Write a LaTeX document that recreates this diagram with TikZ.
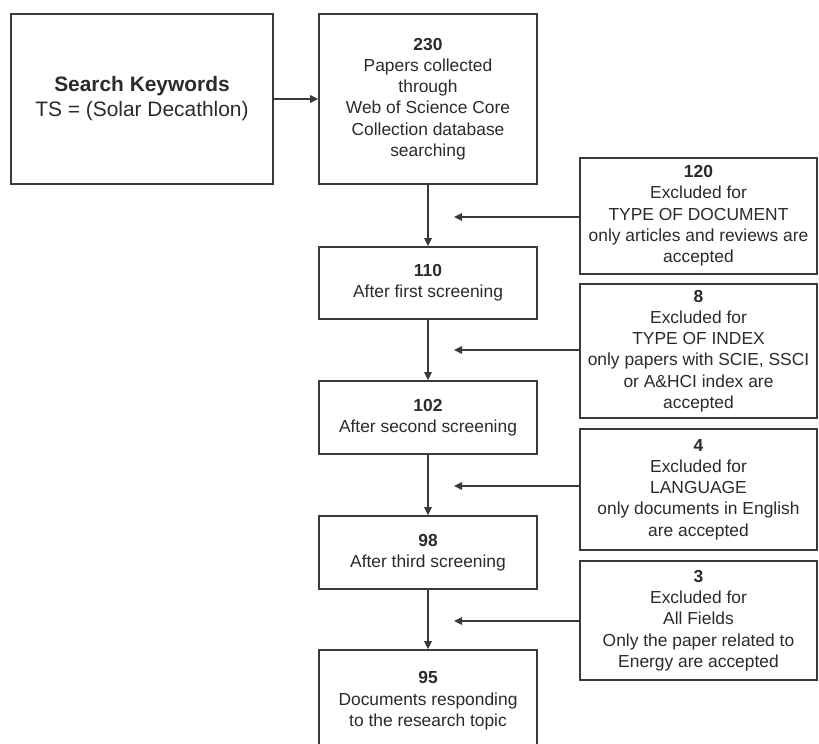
\documentclass[tikz,border=0pt]{standalone}
\usepackage{fontspec}
\setmainfont{Liberation Sans}
\usetikzlibrary{arrows.meta}
\definecolor{edge}{HTML}{3A3A3A}
\definecolor{ink}{HTML}{2B2B2B}
\begin{document}
\begin{tikzpicture}[x=1pt,y=-1pt,
  box/.style={draw=edge, line width=1.8pt, fill=white, inner sep=0pt, align=center, text=ink,
              font=\fontsize{17.4}{21.3}\selectfont},
  conn/.style={draw=edge, line width=1.4pt, -{Triangle[length=8pt,width=7.5pt]}}]
\clip (0,0) rectangle (819,744);
\fill[white] (0,0) rectangle (819,744);
% main column
\node[box, minimum width=262pt, minimum height=170pt, font=\fontsize{20.9}{25}\selectfont] (kw) at (142,99)
  {\textbf{Search Keywords}\\TS = (Solar Decathlon)};
\node[box, minimum width=218pt, minimum height=170pt] (b230) at (428,99)
  {\textbf{230}\\Papers collected\\through\\Web of Science Core\\Collection database\\searching};
\node[box, minimum width=218pt, minimum height=72pt] (b110) at (428,283)
  {\textbf{110}\\After first screening};
\node[box, minimum width=218pt, minimum height=73pt] (b102) at (428,417.5)
  {\textbf{102}\\After second screening};
\node[box, minimum width=218pt, minimum height=73pt] (b98) at (428,552.5)
  {\textbf{98}\\After third screening};
\node[box, minimum width=218pt, minimum height=102pt] (b95) at (428,701)
  {\textbf{95}\\Documents responding\\to the research topic};
% exclusion boxes
\node[box, minimum width=237pt, minimum height=116pt] (b120) at (698.5,216)
  {\textbf{120}\\Excluded for\\TYPE OF DOCUMENT\\only articles and reviews are\\accepted};
\node[box, minimum width=237pt, minimum height=134pt] (b8) at (698.5,351)
  {\textbf{8}\\Excluded for\\TYPE OF INDEX\\only papers with SCIE, SSCI\\or A\&HCI index are\\accepted};
\node[box, minimum width=237pt, minimum height=121pt] (b4) at (698.5,489.5)
  {\textbf{4}\\Excluded for\\LANGUAGE\\only documents in English\\are accepted};
\node[box, minimum width=237pt, minimum height=119pt] (b3) at (698.5,620.5)
  {\textbf{3}\\Excluded for\\All Fields\\Only the paper related to\\Energy are accepted};
% free ends of the exclusion arrows
\coordinate (t1) at (454,217);
\coordinate (t2) at (454,350);
\coordinate (t3) at (454,486);
\coordinate (t4) at (454,621);
% connectors
\draw[conn] (kw.east) -- (b230.west);
\draw[conn] (b230.south) -- (b110.north);
\draw[conn] (b110.south) -- (b102.north);
\draw[conn] (b102.south) -- (b98.north);
\draw[conn] (b98.south) -- (b95.north);
\draw[conn] (t1 -| b120.west) -- (t1);
\draw[conn] (t2 -| b8.west) -- (t2);
\draw[conn] (t3 -| b4.west) -- (t3);
\draw[conn] (t4 -| b3.west) -- (t4);
\end{tikzpicture}
\end{document}
